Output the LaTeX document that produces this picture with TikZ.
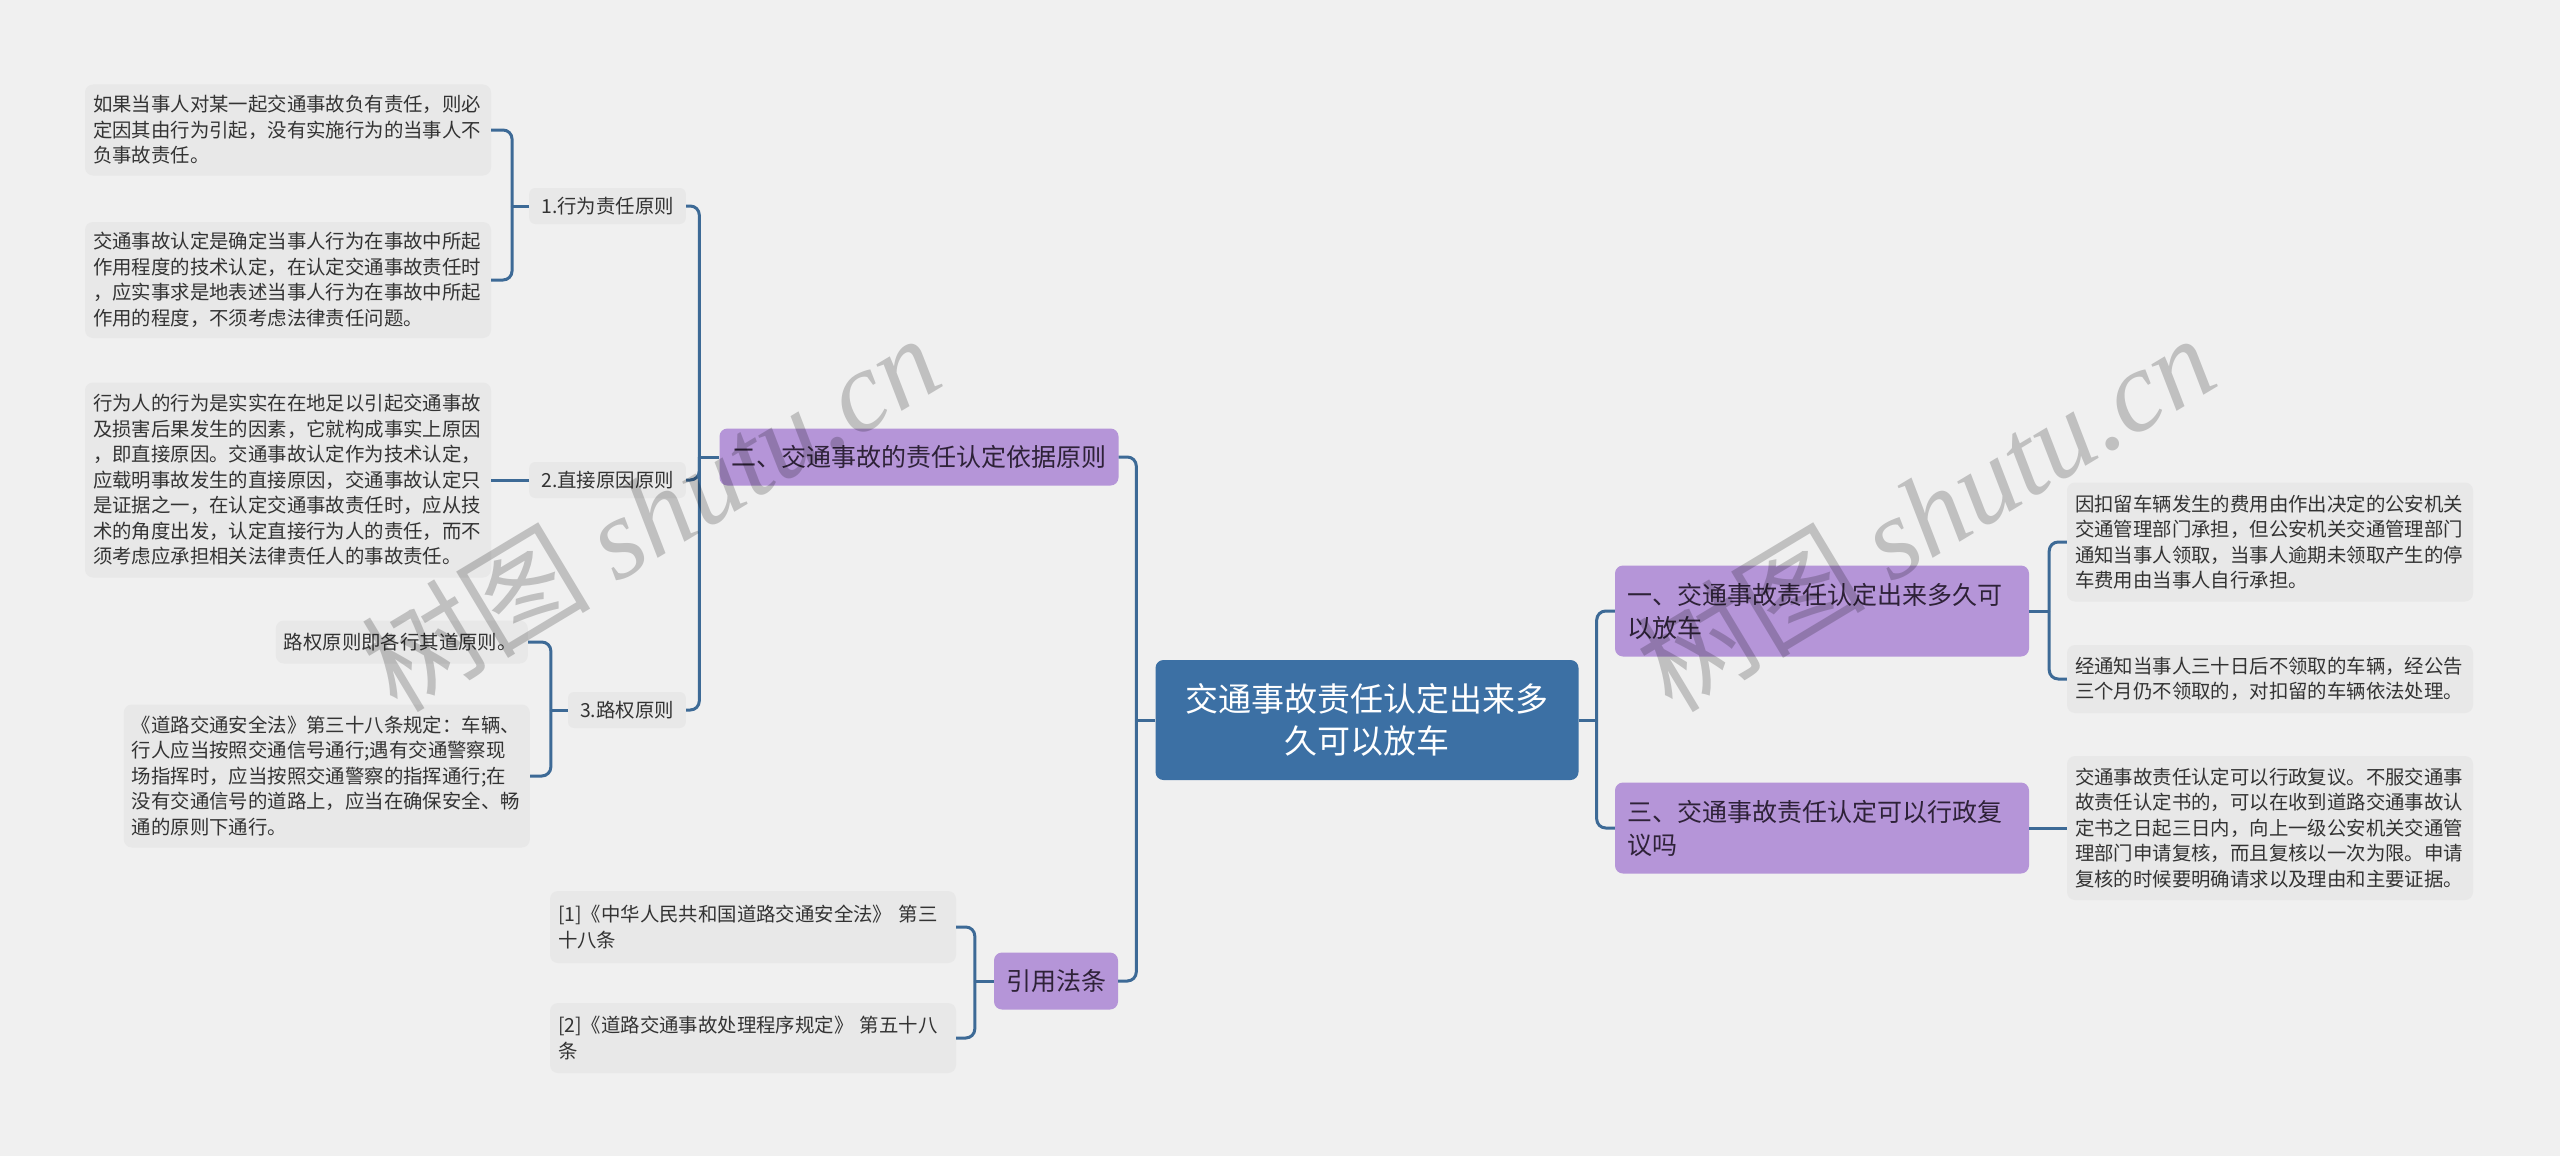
\documentclass[tikz,border=0pt]{standalone}
\usepackage{fontspec}
\setmainfont{Noto Sans CJK SC}
\newfontfamily\wmfont{Liberation Serif}
\usepackage{tikz}
\usetikzlibrary{positioning, calc}
\definecolor{mapBlue}{HTML}{3C70A4}
\definecolor{mapPurple}{HTML}{B595D8}
\definecolor{leafGray}{HTML}{E8E8E8}
\definecolor{bgGray}{HTML}{F0F0F0}
\definecolor{linkBlue}{HTML}{3D6A96}
\definecolor{textDark}{HTML}{333333}
\definecolor{purpleText}{HTML}{2E2238}

\begin{document}
\begin{tikzpicture}[x=1pt, y=-1pt,
    root/.style={rectangle, rounded corners=8pt, fill=mapBlue, text=white, align=center,
                 minimum width=423pt, minimum height=120pt, font=\fontsize{33pt}{42pt}\selectfont},
    branch/.style={rectangle, rounded corners=8pt, fill=mapPurple, text=purpleText, inner xsep=12pt,
                   minimum height=57pt, font=\fontsize{25pt}{33pt}\selectfont},
    topic/.style={branch, text width=390pt, align=left, minimum height=91pt},
    leaf/.style={rectangle, rounded corners=8pt, fill=leafGray, text=textDark, text width=390pt,
                 inner xsep=8pt, align=left, font=\fontsize{19.4pt}{25.5pt}\selectfont},
    principle/.style={rectangle, rounded corners=6pt, fill=leafGray, text=textDark, inner xsep=12pt,
                      minimum height=36pt, font=\fontsize{19.4pt}{25.5pt}\selectfont},
    link/.style={draw=linkBlue, line width=3pt, rounded corners=9pt},
    wm/.style={text=black, text opacity=0.2, rotate=31, font=\fontsize{115pt}{115pt}\selectfont},
]
\useasboundingbox (0,0) rectangle (2560,1156);
\fill[bgGray] (0,0) rectangle (2560,1156);

\node[root] (root) at (1367,720) {交通事故责任认定出来多\\久可以放车};
\node[branch, minimum width=399pt] (basis) at (919,457) {二、交通事故的责任认定依据原则};
\node[branch, minimum width=124pt] (laws) at (1056,981) {引用法条};
\node[topic] (release) at (1822,611) {一、交通事故责任认定出来多久可\\以放车};
\node[topic] (review) at (1822,828) {三、交通事故责任认定可以行政复\\议吗};

\node[principle, anchor=east] (act) at (686,206) {1.行为责任原则};
\node[principle, anchor=east] (direct) at (686,480) {2.直接原因原则};
\node[principle, anchor=east] (way) at (686,710) {3.路权原则};

\node[leaf, minimum height=91pt] (act1) at (288,130) {如果当事人对某一起交通事故负有责任，则必\\定因其由行为引起，没有实施行为的当事人不\\负事故责任。};
\node[leaf, minimum height=116pt] (act2) at (288,280) {交通事故认定是确定当事人行为在事故中所起\\作用程度的技术认定，在认定交通事故责任时\\，应实事求是地表述当事人行为在事故中所起\\作用的程度，不须考虑法律责任问题。};
\node[leaf, minimum height=195pt] (direct1) at (288,480) {行为人的行为是实实在在地足以引起交通事故\\及损害后果发生的因素，它就构成事实上原因\\，即直接原因。交通事故认定作为技术认定，\\应载明事故发生的直接原因，交通事故认定只\\是证据之一，在认定交通事故责任时，应从技\\术的角度出发，认定直接行为人的责任，而不\\须考虑应承担相关法律责任人的事故责任。};
\node[leaf, text width=236pt, minimum height=43pt, anchor=east] (way1) at (528,642) {路权原则即各行其道原则。};
\node[leaf, minimum height=143pt, anchor=east] (way2) at (530,776) {《道路交通安全法》第三十八条规定：车辆、\\行人应当按照交通信号通行;遇有交通警察现\\场指挥时，应当按照交通警察的指挥通行;在\\没有交通信号的道路上，应当在确保安全、畅\\通的原则下通行。};
\node[leaf, minimum height=72pt] (law1) at (753,927) {[1]《中华人民共和国道路交通安全法》~第三\\十八条};
\node[leaf, minimum height=70pt] (law2) at (753,1038) {[2]《道路交通事故处理程序规定》~第五十八\\条};
\node[leaf, minimum height=119pt] (release1) at (2270,542) {因扣留车辆发生的费用由作出决定的公安机关\\交通管理部门承担，但公安机关交通管理部门\\通知当事人领取，当事人逾期未领取产生的停\\车费用由当事人自行承担。};
\node[leaf, minimum height=68pt] (release2) at (2270,679) {经通知当事人三十日后不领取的车辆，经公告\\三个月仍不领取的，对扣留的车辆依法处理。};
\node[leaf, minimum height=144pt] (review1) at (2270,828) {交通事故责任认定可以行政复议。不服交通事\\故责任认定书的，可以在收到道路交通事故认\\定书之日起三日内，向上一级公安机关交通管\\理部门申请复核，而且复核以一次为限。申请\\复核的时候要明确请求以及理由和主要证据。};

\coordinate (rootL) at ($(root.west)+(-19,0)$);
\coordinate (rootR) at ($(root.east)+(18,0)$);
\coordinate (basisJ) at ($(basis.west)+(-20,0)$);
\coordinate (actJ) at ($(act.west)+(-17,0)$);
\coordinate (wayJ) at ($(way.west)+(-17,0)$);
\coordinate (lawsJ) at ($(laws.west)+(-19,0)$);
\coordinate (releaseJ) at ($(release.east)+(20,0)$);

\draw[link] (root.west) -- (rootL);
\draw[link] (rootL) |- (basis.east);
\draw[link] (rootL) |- (laws.east);
\draw[link] (root.east) -- (rootR);
\draw[link] (rootR) |- (release.west);
\draw[link] (rootR) |- (review.west);
\draw[link] (basis.west) -- (basisJ);
\draw[link] (basisJ) |- (act.east);
\draw[link] (basisJ) |- (direct.east);
\draw[link] (basisJ) |- (way.east);
\draw[link] (act.west) -- (actJ);
\draw[link] (actJ) |- (act1.east);
\draw[link] (actJ) |- (act2.east);
\draw[link] (direct.west) -- (direct1.east);
\draw[link] (way.west) -- (wayJ);
\draw[link] (wayJ) |- (way1.east);
\draw[link] (wayJ) |- (way2.east);
\draw[link] (laws.west) -- (lawsJ);
\draw[link] (lawsJ) |- (law1.east);
\draw[link] (lawsJ) |- (law2.east);
\draw[link] (release.east) -- (releaseJ);
\draw[link] (releaseJ) |- (release1.west);
\draw[link] (releaseJ) |- (release2.west);
\draw[link] (review.east) -- (review1.west);

\node[wm] (wmleft) at (650,512) {树图 {\wmfont\itshape shutu.cn}};
\node[wm] (wmright) at (1925,512) {树图 {\wmfont\itshape shutu.cn}};
\end{tikzpicture}
\end{document}
